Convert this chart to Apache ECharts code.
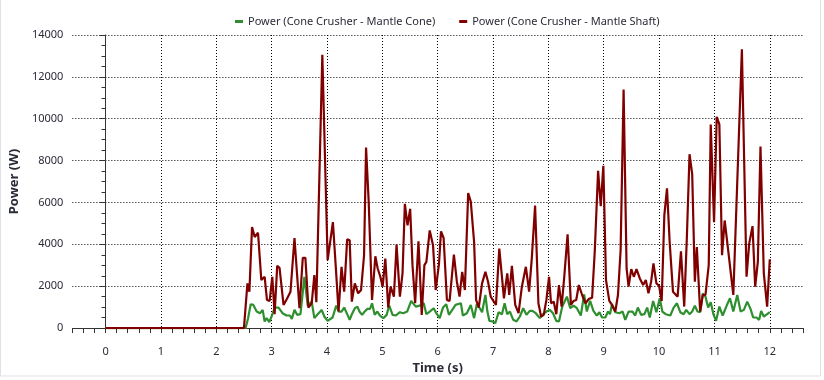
<!DOCTYPE html>
<html><head><meta charset="utf-8">
<script src="https://cdn.jsdelivr.net/npm/echarts@6/dist/echarts.min.js"></script>
<style>html,body{margin:0;padding:0;background:#fff}#c{width:824px;height:380px}</style>
</head><body><div id="c"></div>
<script>
const seriesNames = ['Power (Cone Crusher - Mantle Cone)', 'Power (Cone Crusher - Mantle Shaft)'];
const xLabelValues = [0,1,2,3,4,5,6,7,8,9,10,11,12];
const yTickValues = [0,2000,4000,6000,8000,10000,12000,14000];

const shaftT = [0,2.5,2.563,2.598,2.646,2.694,2.754,2.814,2.874,2.916,2.964,3.012,3.054,3.101,3.143,3.215,3.275,3.341,3.413,3.503,3.563,3.61,3.664,3.724,3.772,3.808,3.916,4.012,4.107,4.161,4.209,4.263,4.311,4.365,4.41,4.449,4.503,4.563,4.616,4.67,4.706,4.754,4.814,4.874,4.916,4.964,5.006,5.054,5.107,5.149,5.209,5.257,5.317,5.365,5.407,5.455,5.503,5.545,5.593,5.653,5.712,5.76,5.796,5.856,5.916,5.964,6.024,6.06,6.107,6.167,6.215,6.293,6.347,6.395,6.443,6.491,6.551,6.598,6.658,6.694,6.742,6.802,6.862,6.91,6.958,7.006,7.053,7.113,7.161,7.197,7.257,7.293,7.341,7.401,7.461,7.521,7.593,7.652,7.7,7.76,7.82,7.868,7.916,7.964,8.012,8.048,8.096,8.143,8.191,8.239,8.287,8.347,8.407,8.455,8.503,8.55,8.61,8.67,8.73,8.79,8.838,8.898,8.946,8.993,9.041,9.101,9.149,9.209,9.257,9.305,9.359,9.413,9.449,9.497,9.544,9.592,9.652,9.712,9.76,9.808,9.856,9.898,9.952,10.0,10.047,10.095,10.143,10.191,10.251,10.335,10.395,10.454,10.502,10.55,10.598,10.646,10.682,10.742,10.79,10.838,10.897,10.933,10.993,11.041,11.089,11.137,11.185,11.245,11.293,11.341,11.496,11.58,11.628,11.688,11.736,11.784,11.832,11.892,11.952,12.0];
const shaftV = [0,0,2136,1740,4825,4350,4556,2294,2452,1345,1297,2452,664,2974,2879,1107,1392,1740,4303,949,3354,3354,981,1186,2531,1234,13051,3243,5062,2848,791,2927,1740,4240,4192,1266,2136,1661,1819,3480,8622,6012,1345,3433,2848,2452,1978,3322,981,1978,1503,3987,1503,2610,5933,4904,5695,3006,1186,4145,633,3006,3164,4667,3955,1819,3085,4619,4303,1345,1297,3512,2215,1503,2689,1819,6455,6044,4113,1345,981,2136,2689,2215,1503,1297,1107,3797,2452,1424,2610,1582,2974,1107,712,1978,2927,1740,3322,5853,1186,554,633,1345,2452,1186,1266,664,2057,1028,2452,4477,1107,1297,1345,2057,1582,1186,1392,1455,3670,7515,5822,7752,2294,1297,1107,791,1582,3718,11390,2848,1978,2816,2452,2816,2373,2057,2294,1661,2215,3085,2136,2025,1297,5400,6676,4113,1740,1503,3670,1028,4350,8305,7356,2215,3876,791,1582,1582,3006,9729,5062,10093,9729,3480,5141,3797,2689,1582,13320,2452,4034,4873,1978,3164,8669,2610,1028,3290];

const coneT = [0,2.53,2.575,2.622,2.67,2.73,2.79,2.838,2.874,2.91,2.958,3.006,3.054,3.125,3.197,3.269,3.329,3.365,3.413,3.461,3.521,3.592,3.652,3.724,3.772,3.832,3.904,3.952,4.012,4.101,4.167,4.215,4.263,4.311,4.371,4.41,4.45,4.503,4.551,4.587,4.634,4.682,4.73,4.778,4.814,4.862,4.91,4.958,5.018,5.078,5.125,5.185,5.245,5.317,5.377,5.449,5.521,5.557,5.604,5.676,5.748,5.796,5.856,5.928,5.976,6.036,6.096,6.155,6.203,6.263,6.323,6.347,6.419,6.455,6.527,6.598,6.658,6.707,6.754,6.802,6.862,6.898,6.934,6.994,7.041,7.101,7.161,7.209,7.257,7.305,7.365,7.425,7.485,7.545,7.604,7.664,7.712,7.772,7.844,7.904,7.964,8.024,8.084,8.143,8.191,8.251,8.335,8.395,8.455,8.515,8.586,8.646,8.694,8.754,8.814,8.874,8.922,8.97,9.029,9.077,9.113,9.149,9.209,9.281,9.341,9.389,9.449,9.52,9.568,9.616,9.676,9.736,9.784,9.832,9.892,9.952,10.012,10.059,10.119,10.155,10.203,10.263,10.323,10.383,10.443,10.49,10.55,10.598,10.646,10.694,10.742,10.79,10.838,10.886,10.933,10.981,11.029,11.089,11.149,11.221,11.281,11.341,11.412,11.473,11.532,11.592,11.652,11.7,11.76,11.808,11.844,11.892,11.952,12.0];
const coneV = [0,0,475,1139,1107,791,712,870,316,475,285,601,981,981,712,601,601,443,870,633,664,2452,1076,1266,475,664,870,554,348,506,1076,791,791,981,633,396,664,949,1028,791,633,791,918,918,1186,633,791,601,475,633,1076,633,601,759,712,791,1297,1345,1028,1076,1186,664,791,949,712,475,981,1139,633,870,1107,1139,1186,601,712,1107,475,1139,981,759,1582,791,348,316,237,759,664,1186,664,791,396,316,554,949,633,823,823,712,475,664,791,870,712,348,316,1028,1503,949,1076,949,601,1614,791,1297,823,601,759,506,506,791,664,1139,759,712,791,396,791,791,601,981,633,664,981,506,1297,759,1424,791,664,712,601,981,1186,759,664,870,664,791,1076,791,759,1661,1503,981,1234,664,348,1028,601,1076,1424,791,1582,791,870,1266,918,506,506,396,823,554,664,759];

const zip = (t, v) => t.map((x, i) => [x, v[i]]);
const minorTicks = [];
for (let k = -3; k <= 63; k++) minorTicks.push(+(k * 0.2).toFixed(1));

const font = '"Noto Sans", "Open Sans", sans-serif';
const txt = '#2b2b38';
const chart = echarts.init(document.getElementById('c'), null, {renderer: 'canvas'});
chart.setOption({
  animation: false,
  backgroundColor: '#fff',
  textStyle: {fontFamily: font},
  graphic: [{type: 'rect', silent: true, shape: {x: 0.5, y: -2, width: 820, height: 378}, style: {fill: 'none', stroke: '#dde1e8', lineWidth: 1}}],
  legend: {
    top: 11, left: 230, itemGap: 24, itemWidth: 8, itemHeight: 3, icon: 'rect',
    textStyle: {fontSize: 11, color: txt, fontFamily: font},
    data: seriesNames
  },
  grid: {left: 70, right: 21, top: 35, bottom: 50, containLabel: false},
  xAxis: [{
    type: 'value', min: -0.6, max: 12.6, offset: 8,
    name: 'Time (s)', nameLocation: 'middle', nameGap: 25,
    nameTextStyle: {fontSize: 13, fontWeight: 'bold', color: txt, fontFamily: font},
    axisLine: {show: true, lineStyle: {color: '#333', width: 1}},
    axisTick: {show: true, length: 5, inside: false, lineStyle: {color: '#333'}, customValues: minorTicks},
    axisLabel: {customValues: xLabelValues, fontSize: 11, color: txt, margin: 10, fontFamily: font},
    splitLine: {show: false}
  }, {
    type: 'value', min: -0.6, max: 12.6, position: 'bottom',
    axisLine: {show: false}, axisLabel: {show: false},
    axisTick: {show: false, customValues: xLabelValues},
    splitLine: {show: true, lineStyle: {color: '#000', type: [1, 2], width: 1}}
  }],
  yAxis: {
    type: 'value', min: 0, max: 14000, interval: 2000, offset: 1,
    name: 'Power (W)', nameLocation: 'middle', nameGap: 44,
    nameTextStyle: {fontSize: 13, fontWeight: 'bold', color: txt, fontFamily: font},
    axisLine: {show: true, lineStyle: {color: '#333', width: 1}},
    axisTick: {show: true, length: 6, lineStyle: {color: '#333'}},
    minorTick: {show: true, splitNumber: 4, length: 4, lineStyle: {color: '#333'}},
    axisLabel: {fontSize: 11, color: txt, margin: 8, fontFamily: font, formatter: v => String(v)},
    splitLine: {show: true, lineStyle: {color: '#000', type: [1, 2], width: 1}}
  },
  series: [{
    name: seriesNames[0], type: 'line', xAxisIndex: 0, showSymbol: false, symbol: 'none',
    data: zip(coneT, coneV), color: '#2e8f2e', lineStyle: {width: 2.2, color: '#2e8f2e'}, z: 2
  }, {
    name: seriesNames[1], type: 'line', xAxisIndex: 0, showSymbol: false, symbol: 'none',
    data: zip(shaftT, shaftV), color: '#800000', lineStyle: {width: 2.2, color: '#800000'}, z: 3
  }]
});
</script></body></html>
